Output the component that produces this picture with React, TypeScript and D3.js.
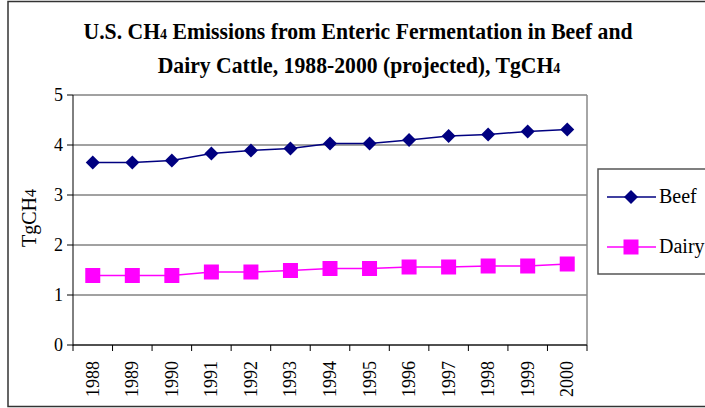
import React from "react";
import * as d3 from "d3";

const years = ["1988","1989","1990","1991","1992","1993","1994","1995","1996","1997","1998","1999","2000"];
const beef = [3.65,3.65,3.69,3.83,3.89,3.93,4.03,4.03,4.10,4.18,4.21,4.27,4.31];
const dairy = [1.39,1.39,1.39,1.46,1.46,1.49,1.53,1.53,1.56,1.56,1.58,1.58,1.62];
const yTicks = [0,1,2,3,4,5];
const seriesNames = ["Beef","Dairy"];

const W = 705, H = 408;
const L = 73, R = 587, T = 95, B = 345;
const FONT = "'Liberation Serif', 'DejaVu Serif', serif";

export default function App() {
  const x = d3.scaleBand<string>().domain(years).range([L, R]);
  const y = d3.scaleLinear().domain([0, 5]).range([B, T]);
  const line = d3.line<number>().x((_, i) => (x(years[i]) as number) + x.bandwidth() / 2).y(d => y(d));
  const cx = (i: number) => (x(years[i]) as number) + x.bandwidth() / 2;
  const boundaries = years.map(yr => x(yr) as number).concat([R]);
  const diamond = (px: number, py: number, r = 7) => `M${px},${py - r}L${px + r},${py}L${px},${py + r}L${px - r},${py}Z`;
  const sq = 7.5;
  return (
    <div style={{ position: "absolute", left: 0, top: 0 }}>
      <svg width={W} height={H} style={{ display: "block", fontFamily: FONT }}>
        <rect x={0} y={0} width={W} height={H} fill="#fff" />
        <rect x={8} y={1.5} width={W + 20} height={405} fill="none" stroke="#333" strokeWidth={1.5} />
        <g transform="translate(358,39) scale(1,1.06)">
          <text x={0} y={0} textAnchor="middle" fontWeight="bold" fontSize={21.7} fill="#000">
            U.S. CH<tspan fontSize={14}>4</tspan> Emissions from Enteric Fermentation in Beef and
          </text>
        </g>
        <g transform="translate(359,73) scale(1,1.06)">
          <text x={0} y={0} textAnchor="middle" fontWeight="bold" fontSize={21.7} fill="#000">
            Dairy Cattle, 1988-2000 (projected), TgCH<tspan fontSize={14}>4</tspan>
          </text>
        </g>
        {yTicks.map(t => (
          <g key={t}>
            <line x1={L} x2={R} y1={y(t)} y2={y(t)} stroke="#444" strokeWidth={1} />
            <line x1={L - 6} x2={L} y1={y(t)} y2={y(t)} stroke="#000" strokeWidth={1} />
            <text x={L - 10} y={y(t) + 6} textAnchor="end" fontSize={18} fill="#000">{t}</text>
          </g>
        ))}
        <line x1={R} x2={R} y1={T} y2={B} stroke="#888" strokeWidth={1.5} />
        <line x1={L} x2={L} y1={T} y2={B + 0.5} stroke="#000" strokeWidth={1} />
        <line x1={L} x2={R} y1={B} y2={B} stroke="#000" strokeWidth={1} />
        {boundaries.map((bx, i) => (
          <line key={i} x1={bx} x2={bx} y1={B} y2={B + 6} stroke="#000" strokeWidth={1} />
        ))}
        {years.map((yr, i) => (
          <text key={yr} transform={`translate(${cx(i) + 6},${361}) rotate(-90)`} textAnchor="end" fontSize={18} fill="#000">{yr}</text>
        ))}
        <text transform={`translate(${36},${218}) rotate(-90)`} textAnchor="middle" fontSize={20} fill="#000">
          TgCH<tspan fontSize={16}>4</tspan>
        </text>
        <path d={line(beef) || ""} fill="none" stroke="#000080" strokeWidth={1.5} />
        {beef.map((v, i) => <path key={i} d={diamond(cx(i), y(v))} fill="#000080" />)}
        <path d={line(dairy) || ""} fill="none" stroke="#ff00ff" strokeWidth={1.5} />
        {dairy.map((v, i) => <rect key={i} x={cx(i) - sq} y={y(v) - sq} width={sq * 2} height={sq * 2} fill="#ff00ff" />)}
        <rect x={598} y={169} width={130} height={105} fill="#fff" stroke="#555" strokeWidth={1.5} />
        <line x1={607} x2={656} y1={197} y2={197} stroke="#000080" strokeWidth={1.5} />
        <path d={diamond(631, 197)} fill="#000080" />
        <text x={659} y={203} fontSize={20} fill="#000">{seriesNames[0]}</text>
        <line x1={607} x2={656} y1={247} y2={247} stroke="#ff00ff" strokeWidth={1.5} />
        <rect x={631 - sq} y={247 - sq} width={sq * 2} height={sq * 2} fill="#ff00ff" />
        <text x={659} y={253} fontSize={20} fill="#000">{seriesNames[1]}</text>
      </svg>
    </div>
  );
}
